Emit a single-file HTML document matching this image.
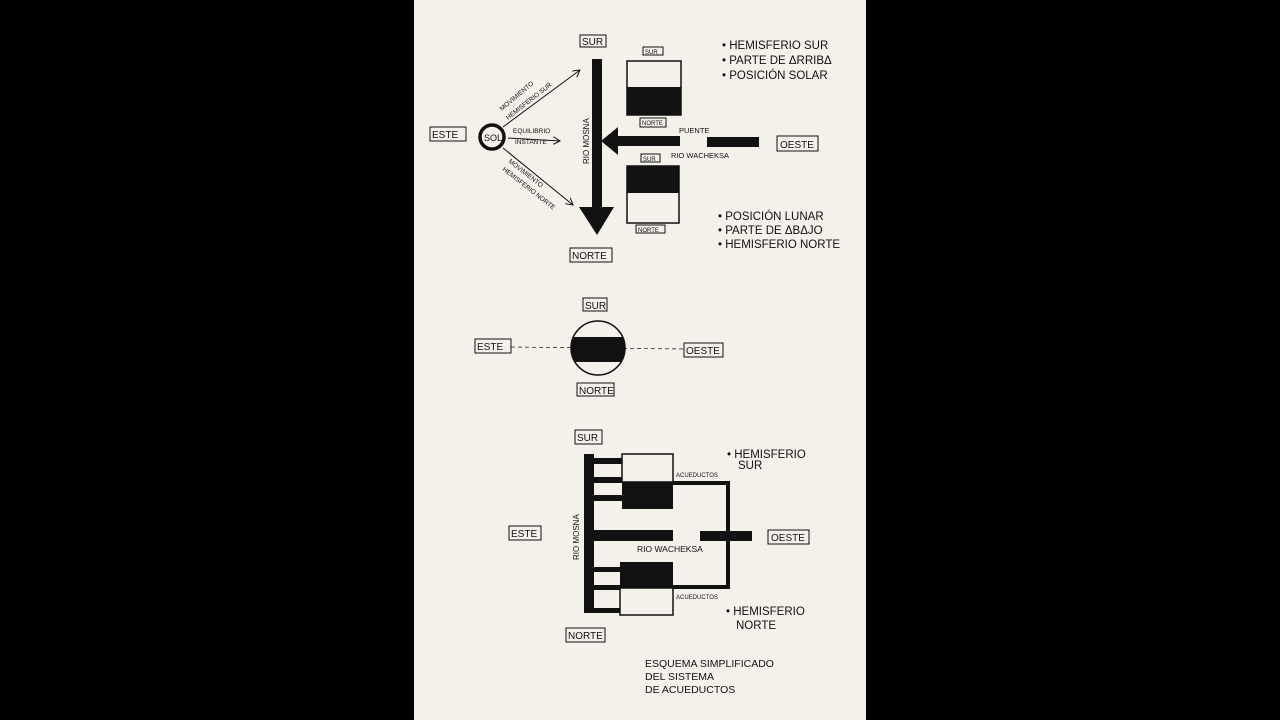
<!DOCTYPE html>
<html><head><meta charset="utf-8"><style>
html,body{margin:0;padding:0;background:#000;}
svg{display:block}
text{font-family:"Liberation Sans",sans-serif;fill:#111;}
</style></head><body>
<svg width="1280" height="720" viewBox="0 0 1280 720" xmlns="http://www.w3.org/2000/svg">
<defs>
<marker id="ah" markerWidth="8" markerHeight="8" refX="7" refY="4" orient="auto" markerUnits="userSpaceOnUse"><path d="M0,0 L7,4 L0,8" fill="none" stroke="#111" stroke-width="1"/></marker>
<clipPath id="cc"><circle cx="598" cy="348" r="27"/></clipPath>
</defs>
<rect x="0" y="0" width="1280" height="720" fill="#000"/>
<rect x="414" y="0" width="452" height="720" fill="#f4f1ea"/>

<g stroke="#111" fill="none" stroke-width="1">
<rect x="580" y="35" width="26" height="12"/>
<rect x="430" y="127" width="36" height="14"/>
<rect x="777" y="136" width="41" height="15"/>
<rect x="570" y="248" width="42" height="14"/>
<rect x="643" y="47" width="20" height="8"/>
<rect x="640" y="118" width="26" height="9"/>
<rect x="641" y="154" width="19" height="8"/>
<rect x="636" y="225" width="29" height="8"/>
<rect x="627" y="61" width="54" height="54" stroke-width="1.5"/>
<rect x="627" y="166" width="52" height="57" stroke-width="1.5"/>
<circle cx="492" cy="137" r="12" stroke-width="3.5"/>
<line x1="503" y1="127" x2="580" y2="70" marker-end="url(#ah)"/>
<line x1="508" y1="138" x2="560" y2="141" marker-end="url(#ah)"/>
<line x1="503" y1="148" x2="573" y2="205" marker-end="url(#ah)"/>
</g>
<g fill="#111">
<rect x="627" y="87" width="54" height="28"/>
<rect x="627" y="166" width="52" height="27"/>
<rect x="592" y="59" width="10" height="152"/>
<polygon points="579,207 614,207 597,235"/>
<rect x="612" y="136" width="68" height="10"/>
<polygon points="601,141 618,127 618,155"/>
<rect x="707" y="137" width="52" height="10"/>
</g>
<g font-size="9">
<text x="582" y="45" font-size="10">SUR</text>
<text x="432" y="138" font-size="10">ESTE</text>
<text x="780" y="148" font-size="10">OESTE</text>
<text x="572" y="259" font-size="10">NORTE</text>
<text x="484" y="141" font-size="9">SOL</text>
<text x="645" y="54" font-size="6">SUR</text>
<text x="642" y="125" font-size="6">NORTE</text>
<text x="643" y="161" font-size="6">SUR</text>
<text x="638" y="232" font-size="6">NORTE</text>
<text x="679" y="133" font-size="7.5">PUENTE</text>
<text x="671" y="158" font-size="7.5">RIO WACHEKSA</text>
<text x="513" y="133" font-size="6.5">EQUILIBRIO</text>
<text x="515" y="144" font-size="6.5">INSTANTE</text>
<text transform="translate(502,111) rotate(-40)" font-size="6.5">MOVIMIENTO</text>
<text transform="translate(508,120) rotate(-38)" font-size="6.5">HEMISFERIO SUR</text>
<text transform="translate(508,162) rotate(38)" font-size="6.5">MOVIMIENTO</text>
<text transform="translate(502,170) rotate(38)" font-size="6.5">HEMISFERIO NORTE</text>
<text transform="translate(589,164) rotate(-90)" font-size="8">RIO MOSNA</text>
</g>
<g font-size="11.5">
<text x="722" y="49">• HEMISFERIO SUR</text>
<text x="722" y="64">• PARTE DE ΔRRIBΔ</text>
<text x="722" y="79">• POSICIÓN SOLAR</text>
<text x="718" y="220">• POSICIÓN LUNAR</text>
<text x="718" y="234">• PARTE DE ΔBΔJO</text>
<text x="718" y="248">• HEMISFERIO NORTE</text>
</g>

<g stroke="#111" fill="none" stroke-width="1">
<rect x="583" y="298" width="24" height="13"/>
<rect x="475" y="339" width="36" height="14"/>
<rect x="684" y="343" width="39" height="14"/>
<rect x="577" y="383" width="37" height="13"/>
<line x1="511" y1="347" x2="684" y2="349" stroke-dasharray="4,3" stroke-width="0.7"/>
</g>
<circle cx="598" cy="348" r="27" fill="#f4f1ea"/>
<rect x="571" y="337" width="54" height="25" fill="#111" clip-path="url(#cc)"/>
<circle cx="598" cy="348" r="27" fill="none" stroke="#111" stroke-width="1.5"/>
<g font-size="10">
<text x="585" y="309">SUR</text>
<text x="477" y="350">ESTE</text>
<text x="686" y="354">OESTE</text>
<text x="579" y="394">NORTE</text>
</g>

<g stroke="#111" fill="none" stroke-width="1">
<rect x="575" y="430" width="27" height="14"/>
<rect x="509" y="526" width="32" height="14"/>
<rect x="768" y="530" width="41" height="14"/>
<rect x="566" y="628" width="39" height="14"/>
<rect x="622" y="454" width="51" height="28" stroke-width="1.5"/>
<rect x="620" y="588" width="53" height="27" stroke-width="1.5"/>
</g>
<g fill="#111">
<rect x="584" y="454" width="10" height="159"/>
<rect x="594" y="458" width="28" height="6"/>
<rect x="594" y="477" width="28" height="6"/>
<rect x="594" y="495" width="28" height="6"/>
<rect x="622" y="482" width="51" height="27"/>
<rect x="673" y="481" width="57" height="4"/>
<rect x="726" y="481" width="4" height="108"/>
<rect x="673" y="585" width="57" height="4"/>
<rect x="593" y="530" width="80" height="11"/>
<rect x="700" y="531" width="52" height="10"/>
<rect x="620" y="562" width="53" height="26"/>
<rect x="594" y="567" width="26" height="5"/>
<rect x="594" y="585" width="26" height="5"/>
<rect x="594" y="608" width="26" height="5"/>
</g>
<g font-size="10">
<text x="577" y="441">SUR</text>
<text x="511" y="537">ESTE</text>
<text x="771" y="541">OESTE</text>
<text x="568" y="639">NORTE</text>
<text x="637" y="552" font-size="8.5">RIO WACHEKSA</text>
<text x="676" y="477" font-size="6">ACUEDUCTOS</text>
<text x="676" y="599" font-size="6">ACUEDUCTOS</text>
<text transform="translate(579,560) rotate(-90)" font-size="8">RIO MOSNA</text>
</g>
<g font-size="11.5">
<text x="727" y="458">• HEMISFERIO</text>
<text x="738" y="469">SUR</text>
<text x="726" y="615">• HEMISFERIO</text>
<text x="736" y="629">NORTE</text>
</g>
<g font-size="10.5">
<text x="645" y="667">ESQUEMA SIMPLIFICADO</text>
<text x="645" y="680">DEL SISTEMA</text>
<text x="645" y="693">DE ACUEDUCTOS</text>
</g>
</svg>
</body></html>
